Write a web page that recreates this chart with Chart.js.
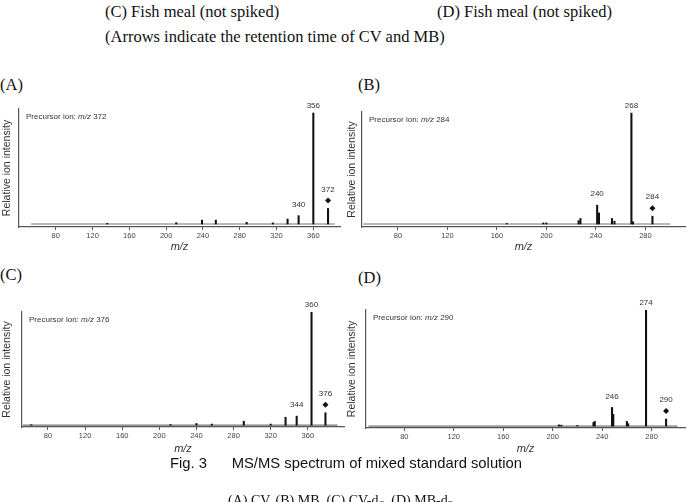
<!DOCTYPE html>
<html>
<head>
<meta charset="utf-8">
<script src="https://cdn.jsdelivr.net/npm/chart.js@4"></script>
<style>
  body { margin: 0; background: #fff; width: 694px; height: 502px; position: relative; overflow: hidden; }
  .serif { position: absolute; font-family: "Liberation Serif", "Times New Roman", serif; font-size: 16.5px; color: #111; white-space: nowrap; }
  .sans { position: absolute; font-family: "Liberation Sans", Arial, sans-serif; color: #111; white-space: nowrap; }
  canvas { position: absolute; }
</style>
</head>
<body>
<div class="serif" style="left:105px;top:2px">(C) Fish meal (not spiked)</div>
<div class="serif" style="left:437px;top:2px">(D) Fish meal (not spiked)</div>
<div class="serif" style="left:105px;top:27px">(Arrows indicate the retention time of CV and MB)</div>

<div class="serif" style="left:0px;top:75px">(A)</div>
<div class="serif" style="left:358px;top:75px">(B)</div>
<div class="serif" style="left:0px;top:265px">(C)</div>
<div class="serif" style="left:358px;top:268px">(D)</div>

<canvas id="chartA" width="345" height="156" style="left:0px;top:100px"></canvas>
<canvas id="chartB" width="349" height="156" style="left:345px;top:100px"></canvas>
<canvas id="chartC" width="350" height="158" style="left:0px;top:300px"></canvas>
<canvas id="chartD" width="349" height="158" style="left:345px;top:300px"></canvas>

<div class="sans" style="left:170px;top:455px;font-size:14.8px">Fig. 3&nbsp;&nbsp;&nbsp;&nbsp;&nbsp; MS/MS spectrum of mixed standard solution</div>
<div class="serif" style="left:228px;top:493px;font-size:14px">(A) CV, (B) MB, (C) CV-d<sub>6</sub>, (D) MB-d<sub>3</sub></div>

<script>
// (A) precursor m/z 372
const tickMzA = [80, 120, 160, 200, 240, 280, 320, 360]
const peakMzA = [136, 211, 239, 254, 287.5, 316, 332, 344, 360, 376]
const peakIntA = [0.6, 1.2, 3.5, 3.5, 1.5, 1, 4.5, 7.5, 100, 14]
const labelMzA = [360, 344, 376]
const labelTextA = ['356', '340', '372']
const traceA = [53, 383]

// (B) precursor m/z 284
const tickMzB = [80, 120, 160, 200, 240, 280]
const peakMzB = [168, 197.5, 200, 226, 227.5, 241, 242.5, 253, 255, 268.7, 270, 285.7]
const peakIntB = [0.5, 1, 1, 3, 5, 17, 10, 5, 2.5, 100, 2, 7]
const labelMzB = [268.7, 241, 285.7]
const labelTextB = ['268', '240', '284']
const traceB = [52, 300]

// (C) precursor m/z 376
const tickMzC = [80, 120, 160, 200, 240, 280, 320, 360]
const peakMzC = [62, 212, 240, 256.5, 291, 320, 336, 348, 364, 379]
const peakIntC = [0.4, 0.6, 1.5, 1, 3.5, 1, 7, 8, 100, 11]
const labelMzC = [364, 348, 379]
const labelTextC = ['360', '344', '376']
const traceC = [53, 392]

// (D) precursor m/z 290
const tickMzD = [80, 120, 160, 200, 240, 280]
const peakMzD = [205, 207, 220, 233, 234, 248, 249, 260, 261, 275.5, 291.7]
const peakIntD = [1, 0.8, 0.5, 3, 4, 16, 10, 4, 2, 100, 6]
const labelMzD = [275.5, 248, 291.7]
const labelTextD = ['274', '246', '290']
const traceD = [51, 301]

const sans = '"Liberation Sans", Arial, sans-serif'

const annotate = {
  id: 'annotate',
  afterDatasetsDraw(chart, args, o) {
    const { ctx, chartArea, scales: { x, y } } = chart
    ctx.save()
    ctx.fillStyle = '#333'
    ctx.textBaseline = 'middle'
    ctx.textAlign = 'left'

    // precursor note
    let px = chartArea.left + 7
    const py = chartArea.top + 8
    ctx.font = '8px ' + sans
    ctx.fillText('Precursor ion: ', px, py)
    px += ctx.measureText('Precursor ion: ').width
    ctx.font = 'italic 8px ' + sans
    ctx.fillText('m/z', px, py)
    px += ctx.measureText('m/z ').width
    ctx.font = '8px ' + sans
    ctx.fillText(o.precursor, px, py)

    // peak labels
    ctx.textAlign = 'center'
    o.labelMz.forEach((mz, i) => {
      const k = o.mz.indexOf(mz)
      const v = o.int[k]
      const xp = x.getPixelForValue(mz)
      const yp = y.getPixelForValue(v)
      const isPrec = i === o.labelMz.length - 1
      let off = v >= 99 ? 7 : 11
      if (isPrec) off = 19
      ctx.fillText(o.labelText[i], xp, yp - off)
      if (isPrec) {
        const cy = yp - 8
        ctx.beginPath()
        ctx.moveTo(xp, cy - 3)
        ctx.lineTo(xp + 3, cy)
        ctx.lineTo(xp, cy + 3)
        ctx.lineTo(xp - 3, cy)
        ctx.closePath()
        ctx.fillStyle = '#111'
        ctx.fill()
        ctx.fillStyle = '#333'
      }
    })
    ctx.restore()
  }
}

function makeChart(id, p) {
  const ctx = document.getElementById(id).getContext('2d')
  const config = {
    type: 'bar',
    data: {
      datasets: [
        {
          type: 'bar',
          data: p.mz.map((m, i) => ({ x: m, y: p.int[i] })),
          backgroundColor: '#111',
          borderWidth: 0,
          barThickness: 1.4,
          order: 1,
        },
        {
          type: 'line',
          data: p.trace.map(m => ({ x: m, y: 0 })),
          borderColor: '#777',
          borderWidth: 1.2,
          pointRadius: 0,
          order: 2,
        },
      ],
    },
    options: {
      responsive: false,
      animation: false,
      layout: { padding: { top: p.padTop, right: p.padRight, left: 0, bottom: 0 } },
      plugins: {
        legend: { display: false },
        tooltip: { enabled: false },
        annotate: {
          mz: p.mz, int: p.int, labelMz: p.labelMz, labelText: p.labelText, precursor: p.precursor,
        },
      },
      scales: {
        x: {
          type: 'linear',
          offset: false,
          min: p.xMin,
          max: p.xMax,
          afterBuildTicks: s => { s.ticks = p.ticks.map(v => ({ value: v })) },
          afterFit: s => { s.height = p.xHeight },
          ticks: { color: '#444', font: { size: 7.5, family: sans }, padding: 1, maxRotation: 0, autoSkip: false },
          grid: { display: true, offset: false, drawOnChartArea: false, drawTicks: true, tickLength: 3, color: '#555' },
          border: { display: true, color: '#555', width: 1.2 },
          title: { display: true, text: 'm/z', color: '#333', font: { size: 11, style: 'italic', family: sans }, padding: { top: 0, bottom: 2 } },
        },
        y: {
          min: p.yMin,
          max: p.yMax,
          afterFit: s => { s.width = p.yWidth },
          ticks: { display: false },
          grid: { display: false },
          border: { display: true, color: '#555', width: 1.2 },
          title: { display: true, text: 'Relative ion intensity', color: '#333', font: { size: 10.5, family: sans }, padding: { top: 1, bottom: 0 } },
        },
      },
    },
    plugins: [annotate],
  }
  return new Chart(ctx, config)
}

makeChart('chartA', {
  mz: peakMzA, int: peakIntA, labelMz: labelMzA, labelText: labelTextA, trace: traceA, ticks: tickMzA,
  precursor: '372', xMin: 40, xMax: 389, yMin: -2.7, yMax: 103.6,
  yWidth: 19, xHeight: 29, padTop: 9, padRight: 5,
})
makeChart('chartB', {
  mz: peakMzB, int: peakIntB, labelMz: labelMzB, labelText: labelTextB, trace: traceB, ticks: tickMzB,
  precursor: '284', xMin: 51, xMax: 312, yMin: -2.7, yMax: 101,
  yWidth: 17, xHeight: 29, padTop: 12, padRight: 9,
})
makeChart('chartC', {
  mz: peakMzC, int: peakIntC, labelMz: labelMzC, labelText: labelTextC, trace: traceC, ticks: tickMzC,
  precursor: '376', xMin: 52, xMax: 399, yMin: -1.6, yMax: 100,
  yWidth: 22, xHeight: 31, padTop: 12, padRight: 6,
})
makeChart('chartD', {
  mz: peakMzD, int: peakIntD, labelMz: labelMzD, labelText: labelTextD, trace: traceD, ticks: tickMzD,
  precursor: '290', xMin: 49, xMax: 307, yMin: -1.7, yMax: 100,
  yWidth: 21, xHeight: 30, padTop: 10, padRight: 9,
})
</script>
</body>
</html>
